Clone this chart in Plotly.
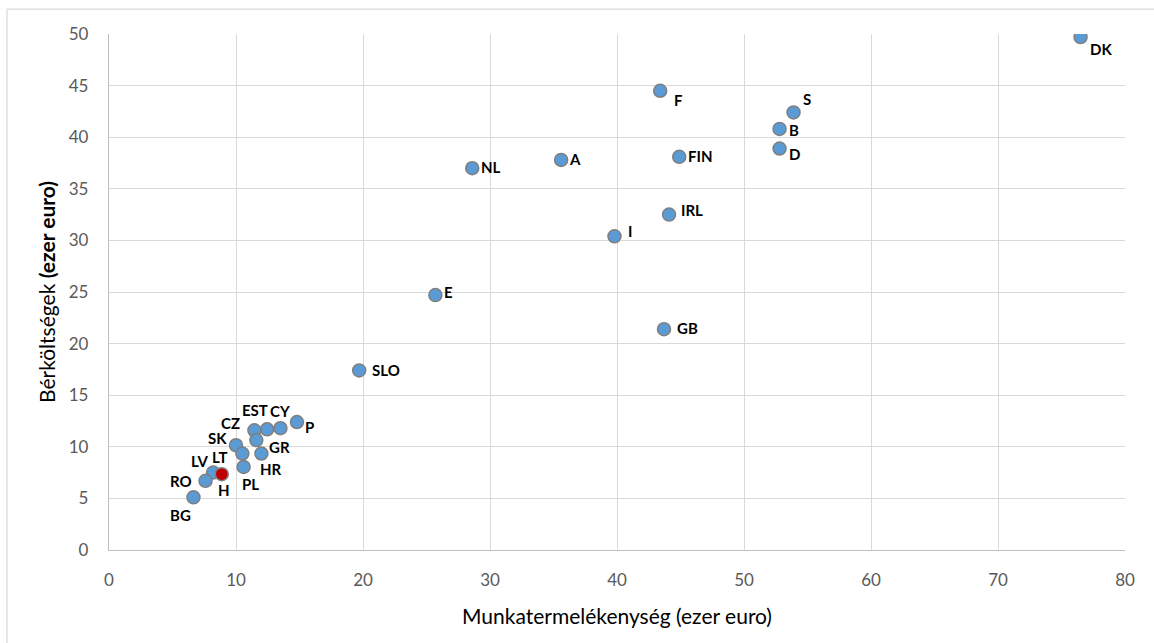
import plotly.graph_objects as go

countries = ["DK", "F", "S", "B", "D", "FIN", "A", "NL", "IRL", "I", "E", "GB", "SLO",
             "P", "CY", "EST", "CZ", "GR", "SK", "LT", "HR", "PL", "LV", "RO", "BG"]
productivity = [76.5, 43.4, 53.9, 52.8, 52.8, 44.9, 35.6, 28.6, 44.1, 39.8, 25.7, 43.7, 19.7,
                14.8, 13.5, 12.45, 11.45, 11.6, 10.0, 10.5, 12.0, 10.6, 8.2, 7.6, 6.65]
labour_cost = [49.7, 44.5, 42.4, 40.8, 38.9, 38.1, 37.8, 37.0, 32.5, 30.4, 24.7, 21.4, 17.4,
               12.4, 11.8, 11.7, 11.6, 10.65, 10.15, 9.35, 9.35, 8.05, 7.5, 6.7, 5.1]

hu_name = ["H"]
hu_productivity = [8.88]
hu_labour_cost = [7.35]

# label offsets in pixels (dx right, dy down) - style only
label_offsets = {
    "DK": (20, 12), "F": (18, 9), "S": (13, -13), "B": (14, 1), "D": (15, 5),
    "FIN": (21, -1), "A": (14, -1), "NL": (19, -1), "IRL": (23, -5), "I": (16, -5),
    "E": (13, -3), "GB": (24, -1), "SLO": (27, 0), "P": (13, 5), "CY": (0, -17),
    "EST": (-12, -19), "CZ": (-24, -7), "GR": (23, 7), "SK": (-19, -7), "LT": (-23, 3),
    "HR": (10, 15), "PL": (7, 17), "LV": (-13, -12), "RO": (-25, 0), "BG": (-13, 18),
    "H": (2, 16),
}

FONT = "Lato"

fig = go.Figure()
fig.add_trace(go.Scatter(
    x=productivity, y=labour_cost, mode="markers",
    marker=dict(size=13, color="#5B9BD5", line=dict(color="#7F7F7F", width=1.5)),
    hoverinfo="text", text=countries, showlegend=False,
))
fig.add_trace(go.Scatter(
    x=hu_productivity, y=hu_labour_cost, mode="markers",
    marker=dict(size=13, color="#C00000", line=dict(color="#7F7F7F", width=1.5)),
    hoverinfo="text", text=hu_name, showlegend=False,
))

annotations = []
for name, xv, yv in list(zip(countries, productivity, labour_cost)) + \
        list(zip(hu_name, hu_productivity, hu_labour_cost)):
    dx, dy = label_offsets[name]
    annotations.append(dict(
        x=xv, y=yv, xref="x", yref="y", text="<b>%s</b>" % name, showarrow=False,
        xshift=dx, yshift=-dy, xanchor="center", yanchor="middle",
        font=dict(family=FONT, size=15, color="#000000"),
    ))

border = dict(color="#D9D9D9", width=1.3)
fig.update_layout(
    width=1154, height=643,
    margin=dict(l=109, r=29, t=34, b=93),
    paper_bgcolor="white", plot_bgcolor="white",
    font=dict(family=FONT, color="#595959"),
    annotations=annotations,
    shapes=[
        dict(type="line", xref="paper", yref="paper",
             x0=-0.1004, x1=1.05, y0=1.0484, y1=1.0484, line=border, layer="below"),
        dict(type="line", xref="paper", yref="paper",
             x0=-0.1004, x1=-0.1004, y0=-0.2, y1=1.0484, line=border, layer="below"),
    ],
)
fig.update_xaxes(
    range=[0, 80], dtick=10, tick0=0,
    showgrid=True, gridcolor="#D9D9D9", gridwidth=1.3,
    showline=True, linecolor="#BFBFBF", linewidth=1.3,
    zeroline=False, ticks="", ticklabelstandoff=14,
    tickfont=dict(family=FONT, size=17, color="#595959"),
    title=dict(text="Munkatermelékenység (ezer euro)", standoff=20,
               font=dict(family=FONT, size=21, color="#000000")),
)
fig.update_yaxes(
    range=[0, 50], dtick=5, tick0=0,
    showgrid=True, gridcolor="#D9D9D9", gridwidth=1.3,
    showline=True, linecolor="#BFBFBF", linewidth=1.3,
    zeroline=False, ticks="", ticklabelstandoff=16,
    tickfont=dict(family=FONT, size=17, color="#595959"),
    title=dict(text="Bérköltségek <b>(ezer euro)</b>", standoff=7,
               font=dict(family=FONT, size=21, color="#000000")),
)

fig.write_html("out.html", config={"displayModeBar": False},
               post_script="document.body.style.margin='0px';")
